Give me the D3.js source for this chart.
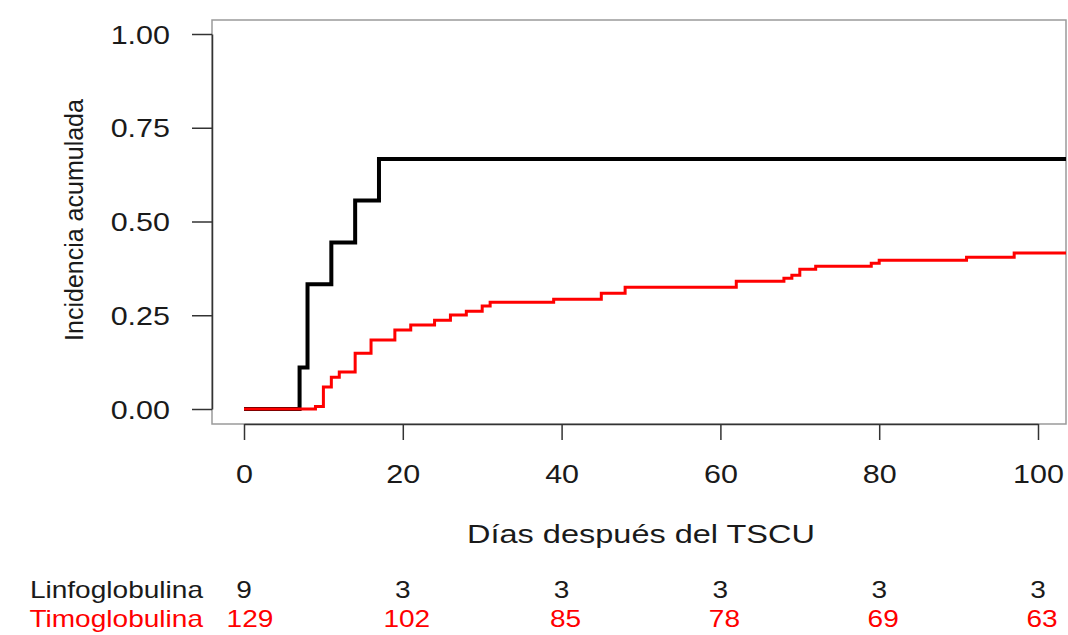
<!DOCTYPE html>
<html>
<head>
<meta charset="utf-8">
<script src="https://cdn.jsdelivr.net/npm/d3@7"></script>
<style>
  html, body { margin: 0; padding: 0; background: #fff; }
  svg { display: block; font-family: "Liberation Sans", Arial, sans-serif; }
</style>
</head>
<body>
<svg id="chart" width="1068" height="635"></svg>
<script>
(function () {
    'use strict';

    // cumulative incidence, step data (day, value)
    const linfoDays = [0, 7, 8, 11, 14, 17, 106];
    const linfoCif = [0, 0.111, 0.333, 0.444, 0.556, 0.667, 0.667];

    const timoDays = [0, 9, 10, 11, 12, 14, 16, 19, 21, 24, 26, 28, 30, 31, 39, 45, 48,
                      62, 68, 69, 70, 72, 79, 80, 91, 97, 106];
    const timoCif = [0, 0.007, 0.059, 0.085, 0.099, 0.149, 0.184, 0.211, 0.224, 0.237,
                     0.251, 0.261, 0.275, 0.285, 0.293, 0.309, 0.325, 0.341, 0.349, 0.357,
                     0.373, 0.381, 0.389, 0.397, 0.405, 0.416, 0.416];

    // numbers at risk
    const riskDays = [0, 20, 40, 60, 80, 100];
    const linfoRisk = [9, 3, 3, 3, 3, 3];
    const timoRisk = [129, 102, 85, 78, 69, 63];

    const xTicks = [0, 20, 40, 60, 80, 100];
    const yTicks = [0, 0.25, 0.5, 0.75, 1];

    const STRETCH = 1.22;
    const RED = "#ff0000";

    let svg = d3.select("#chart");

    let x = d3.scaleLinear().domain([0, 100]).range([244, 1038]);
    let y = d3.scaleLinear().domain([0, 1]).range([409, 34]);

    const box = {left: 212, top: 20, right: 1066, bottom: 424};

    function stretchedText(g, px, py, str, opts) {
        return g.append("text")
            .attr("transform", `translate(${px},${py}) scale(${opts.sx || STRETCH},1)` + (opts.rotate ? ` rotate(${opts.rotate})` : ""))
            .attr("text-anchor", opts.anchor || "middle")
            .attr("font-size", opts.size || 25)
            .attr("fill", opts.color || "#1a1a1a")
            .text(str);
    }

    // plot box
    svg.append("rect")
        .attr("x", box.left).attr("y", box.top)
        .attr("width", box.right - box.left).attr("height", box.bottom - box.top)
        .attr("fill", "none").attr("stroke", "#9a9a9a").attr("stroke-width", 1.5);

    svg.append("clipPath").attr("id", "plotclip")
        .append("rect")
        .attr("x", box.left).attr("y", box.top)
        .attr("width", box.right - box.left).attr("height", box.bottom - box.top);

    // y axis
    let yAxis = svg.append("g")
        .attr("transform", `translate(${box.left},0)`)
        .call(d3.axisLeft(y).tickValues(yTicks).tickFormat(d3.format(".2f")).tickSize(20).tickSizeOuter(0));
    yAxis.selectAll("path, line").attr("stroke", "#333").attr("stroke-width", 1.5);
    yAxis.selectAll("text")
        .attr("x", null)
        .attr("dy", "0.36em")
        .attr("transform", `translate(-42,0) scale(${STRETCH},1)`)
        .attr("font-size", 25)
        .attr("font-family", null)
        .attr("fill", "#1a1a1a");

    // x axis
    let xAxis = svg.append("g")
        .attr("transform", `translate(0,${box.bottom})`)
        .call(d3.axisBottom(x).tickValues(xTicks).tickSize(16).tickSizeOuter(0));
    xAxis.selectAll("path, line").attr("stroke", "#333").attr("stroke-width", 1.5);
    xAxis.selectAll("text")
        .attr("y", 41)
        .attr("x", null)
        .attr("transform", `scale(${STRETCH},1)`)
        .attr("font-size", 25)
        .attr("font-family", null)
        .attr("fill", "#1a1a1a");

    // axis titles
    stretchedText(svg, 641, 543, "Días después del TSCU", {size: 25, sx: 1.3});
    stretchedText(svg, 83, 220, "Incidencia acumulada", {size: 25, sx: 1.0, rotate: -90});

    // curves: black first, red drawn over it
    let line = d3.line()
        .x(d => x(d[0]))
        .y(d => y(d[1]))
        .curve(d3.curveStepAfter);

    let plot = svg.append("g").attr("clip-path", "url(#plotclip)");

    plot.append("path")
        .datum(d3.zip(linfoDays, linfoCif))
        .attr("d", line)
        .attr("fill", "none")
        .attr("stroke", "#000")
        .attr("stroke-width", 4);

    plot.append("path")
        .datum(d3.zip(timoDays, timoCif))
        .attr("d", line)
        .attr("fill", "none")
        .attr("stroke", RED)
        .attr("stroke-width", 3);

    // risk table
    let table = svg.append("g");
    stretchedText(table, 203, 598, "Linfoglobulina", {size: 23, anchor: "end"});
    stretchedText(table, 203, 627, "Timoglobulina", {size: 23, anchor: "end", color: RED});
    riskDays.forEach((d, i) => {
        stretchedText(table, x(d), 598, linfoRisk[i], {size: 23});
        stretchedText(table, x(d) + (i === 0 ? 6 : 4), 627, timoRisk[i], {size: 23, color: RED});
    });
})();
</script>
</body>
</html>
